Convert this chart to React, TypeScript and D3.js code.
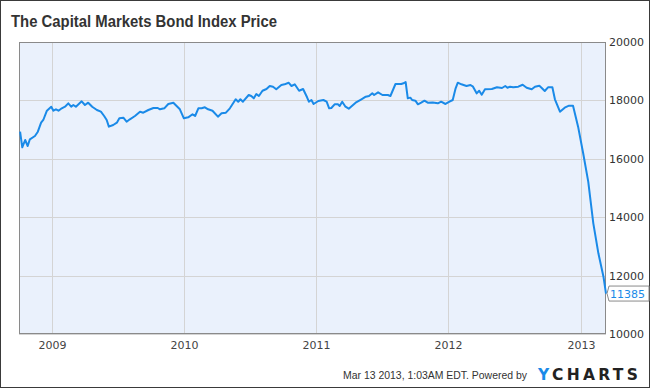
import React from 'react';
import * as d3 from 'd3';

// index price
const dates = [
  '2008-10-06', '2008-10-12', '2008-10-20', '2008-10-27', '2008-11-02', '2008-11-16', '2008-11-24',
  '2008-12-03', '2008-12-09', '2008-12-19', '2008-12-31', '2009-01-06', '2009-01-13', '2009-01-20',
  '2009-01-29', '2009-02-07', '2009-02-16', '2009-02-24', '2009-03-02', '2009-03-09', '2009-03-25',
  '2009-04-03', '2009-04-12', '2009-04-23', '2009-05-06', '2009-05-17', '2009-05-26', '2009-06-02',
  '2009-06-08', '2009-06-20', '2009-06-30', '2009-07-07', '2009-07-18', '2009-07-27', '2009-08-05',
  '2009-08-19', '2009-09-02', '2009-09-11', '2009-09-25', '2009-10-09', '2009-10-21', '2009-10-27',
  '2009-11-08', '2009-11-19', '2009-12-03', '2009-12-12', '2009-12-21', '2010-01-01', '2010-01-13',
  '2010-01-25', '2010-02-01', '2010-02-10', '2010-02-19', '2010-02-28', '2010-03-09', '2010-03-21',
  '2010-04-05', '2010-04-15', '2010-04-27', '2010-05-08', '2010-05-24', '2010-05-31', '2010-06-06',
  '2010-06-13', '2010-06-29', '2010-07-06', '2010-07-13', '2010-07-20', '2010-07-27', '2010-08-06',
  '2010-08-17', '2010-08-26', '2010-09-04', '2010-09-13', '2010-09-27', '2010-10-06', '2010-10-17',
  '2010-10-25', '2010-11-03', '2010-11-15', '2010-11-26', '2010-12-07', '2010-12-12', '2010-12-19',
  '2010-12-25', '2011-01-07', '2011-01-21', '2011-01-30', '2011-02-06', '2011-02-12', '2011-02-21',
  '2011-03-02', '2011-03-07', '2011-03-14', '2011-03-23', '2011-04-01', '2011-04-20', '2011-05-06',
  '2011-05-18', '2011-05-27', '2011-06-05', '2011-06-10', '2011-06-21', '2011-07-03', '2011-07-18',
  '2011-07-25', '2011-08-08', '2011-08-24', '2011-08-30', '2011-09-05', '2011-09-11', '2011-09-18',
  '2011-09-23', '2011-10-02', '2011-10-09', '2011-10-18', '2011-10-27', '2011-11-05', '2011-11-19',
  '2011-12-03', '2011-12-12', '2011-12-24', '2012-01-04', '2012-01-13', '2012-01-21', '2012-01-27',
  '2012-02-06', '2012-02-20', '2012-03-02', '2012-03-09', '2012-03-19', '2012-03-26', '2012-04-02',
  '2012-04-11', '2012-04-30', '2012-05-14', '2012-05-28', '2012-06-06', '2012-06-12', '2012-06-19',
  '2012-06-28', '2012-07-12', '2012-07-24', '2012-08-04', '2012-08-18', '2012-08-27', '2012-09-08',
  '2012-09-14', '2012-09-23', '2012-10-02', '2012-10-14', '2012-10-21', '2012-11-04', '2012-11-17',
  '2012-11-29', '2012-12-10', '2012-12-24', '2013-01-07', '2013-01-21', '2013-02-04', '2013-02-18',
  '2013-03-04', '2013-03-11',
];
const prices = [
  16928, 16394, 16644, 16438, 16668, 16781, 16928,
  17236, 17329, 17647, 17784, 17647, 17695, 17647,
  17729, 17784, 17900, 17784, 17842, 17784, 17968,
  17842, 17922, 17784, 17671, 17613, 17466, 17329,
  17100, 17158, 17236, 17387, 17408, 17271, 17353,
  17466, 17613, 17579, 17671, 17740, 17740, 17695,
  17729, 17877, 17922, 17808, 17695, 17387, 17420,
  17524, 17466, 17729, 17729, 17763, 17695, 17647,
  17442, 17558, 17579, 17729, 18038, 17955, 18038,
  17955, 18185, 18151, 18071, 18219, 18151, 18332,
  18390, 18493, 18469, 18380, 18527, 18551, 18606,
  18493, 18551, 18332, 18390, 18106, 17955, 18014,
  17877, 17979, 18014, 17955, 17729, 17740, 17866,
  17866, 17808, 17955, 17784, 17717, 17922, 18038,
  18127, 18151, 18242, 18185, 18277, 18185, 18185,
  18151, 18562, 18562, 18585, 18630, 18071, 18094,
  18014, 17990, 17866, 17922, 17990, 17922, 17930,
  17900, 17955, 17877, 17955, 18014, 18414, 18606,
  18551, 18493, 18527, 18469, 18242, 18332, 18195,
  18380, 18390, 18449, 18425, 18493, 18435, 18469,
  18449, 18469, 18537, 18435, 18380, 18469, 18503,
  18435, 18322, 18449, 18449, 18038, 17613, 17750,
  17818, 17818, 17100, 16188, 15216, 13791, 12763,
  11962, 11385,
];
const yTicks = [10000, 12000, 14000, 16000, 18000, 20000];
const xTickYears = ['2009', '2010', '2011', '2012', '2013'];
const lastLabel = '11385';

const W = 650;
const H = 388;
const plot = { left: 19, top: 42, right: 606, bottom: 334 };
const parse = d3.timeParse('%Y-%m-%d');
const lineColor = '#1a8ae8';

export default function App() {
  const data = dates.map((d, i) => ({ date: parse(d) as Date, value: prices[i] }));

  const x = d3.scaleTime()
    .domain([parse('2008-10-03') as Date, parse('2013-03-11') as Date])
    .range([plot.left, plot.right]);
  const y = d3.scaleLinear().domain([10000, 20000]).range([plot.bottom, plot.top]);

  const line = d3.line<{ date: Date; value: number }>()
    .x((d) => x(d.date))
    .y((d) => y(d.value));

  const last = data[data.length - 1];
  const ly = y(last.value);
  const lx = x(last.date);

  return (
    <svg width={W} height={H} style={{ position: 'absolute', left: 0, top: 0 }}
      fontFamily="'DejaVu Sans', sans-serif">
      <rect x={0.5} y={0.5} width={W - 1} height={H - 1} fill="#fff" stroke="#3a3a3a" />
      <text x={11} y={27} fontFamily="'Liberation Sans', Arial, sans-serif" fontWeight="bold"
        fontSize={16} fill="#333" textLength={266} lengthAdjust="spacingAndGlyphs">
        The Capital Markets Bond Index Price
      </text>

      <rect x={plot.left} y={plot.top} width={plot.right - plot.left} height={plot.bottom - plot.top}
        fill="#eaf1fc" />
      {yTicks.map((t) => (
        <line key={t} x1={plot.left} x2={plot.right} y1={Math.round(y(t)) + 0.5} y2={Math.round(y(t)) + 0.5}
          stroke="#d4d4d4" />
      ))}
      {xTickYears.map((yr) => {
        const xx = Math.round(x(parse(`${yr}-01-01`) as Date)) + 0.5;
        return (
          <g key={yr}>
            <line x1={xx} x2={xx} y1={plot.top} y2={plot.bottom} stroke="#d4d4d4" />
            <text x={xx} y={349} textAnchor="middle" fontSize={11} fill="#444">{yr}</text>
          </g>
        );
      })}
      <rect x={plot.left + 0.5} y={plot.top + 0.5} width={plot.right - plot.left - 1}
        height={plot.bottom - plot.top - 1} fill="none" stroke="#8a8a8a" />

      <path d={line(data) || ''} fill="none" stroke={lineColor} strokeWidth={2} strokeLinejoin="round" />

      {yTicks.map((t) => (
        <text key={t} x={609} y={y(t)} dy="0.36em" fontSize={11} fill="#333">{t}</text>
      ))}

      <path d={`M${lx + 1},${ly} L${lx + 3},${ly - 7.5} H${W - 1} V${ly + 7.5} H${lx + 3} Z`}
        fill="#fff" stroke="#8a8a8a" />
      <text x={610} y={ly} dy="0.36em" fontSize={11} fill={lineColor}>{lastLabel}</text>

      <text x={527} y={379} textAnchor="end" fontFamily="'Liberation Sans', Arial, sans-serif"
        fontSize={11} fill="#333" textLength={184} lengthAdjust="spacingAndGlyphs">
        Mar 13 2013, 1:03AM EDT.  Powered by
      </text>
      <text x={538} y={379.5} fontFamily="'DejaVu Sans', sans-serif" fontWeight="bold"
        fontSize={15.5} letterSpacing={3.3}>
        <tspan fill="#1a8ae8">Y</tspan>
        <tspan fill="#222">CHARTS</tspan>
      </text>
    </svg>
  );
}
